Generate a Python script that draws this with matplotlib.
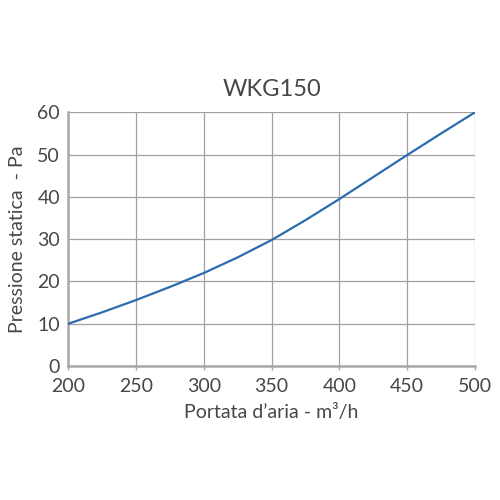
import matplotlib
matplotlib.use("Agg")
import matplotlib.pyplot as plt

# Curve (WKG150)
portata = [200, 225, 250, 275, 300, 325, 350, 375, 400, 425, 450, 475, 500]
pressione = [10.0, 12.7, 15.6, 18.7, 22.0, 25.7, 29.8, 34.5, 39.5, 44.7, 49.9, 55.0, 60.0]

x_ticks = [200, 250, 300, 350, 400, 450, 500]
y_ticks = [0, 10, 20, 30, 40, 50, 60]

plt.rcParams["font.family"] = ["Lato", "DejaVu Sans"]
text_color = "#474747"

fig = plt.figure(figsize=(5, 5), dpi=100)
ax = fig.add_axes([0.1366, 0.268, 0.8134, 0.5074])

ax.plot(portata, pressione, color="#2b6cb0", lw=1.6, zorder=3)

ax.set_xlim(200, 500)
ax.set_ylim(0, 60)
ax.set_xticks(x_ticks)
ax.set_yticks(y_ticks)
ax.grid(True, color="#a0a0a0", lw=0.9)

for side in ["top", "right"]:
    ax.spines[side].set_visible(False)
for side in ["left", "bottom"]:
    ax.spines[side].set_color("#a8a8a8")
    ax.spines[side].set_linewidth(1.8)

ax.tick_params(axis="x", direction="out", length=3, width=1, color="#a8a8a8",
               labelsize=14, labelcolor=text_color, pad=6)
ax.tick_params(axis="y", length=0, labelsize=14, labelcolor=text_color, pad=6)

ax.set_title("WKG150", fontsize=17, color=text_color, pad=12)
ax.set_xlabel("Portata d\u2019aria - m\u00b3/h", fontsize=14, color=text_color,
              labelpad=6)
ax.set_ylabel("Pressione statica  - Pa", fontsize=14, color=text_color,
              labelpad=8)

fig.savefig("out.png", dpi=100)
